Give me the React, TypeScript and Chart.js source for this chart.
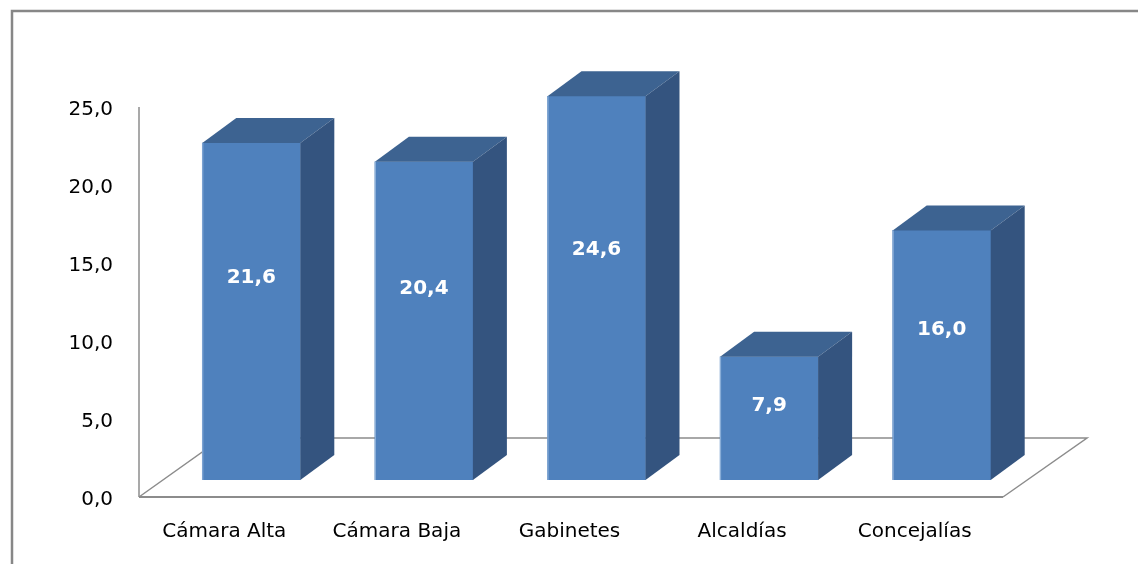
import React, { useEffect, useRef } from "react";
import { Chart, registerables } from "chart.js";

Chart.register(...registerables);

const categories = ["Cámara Alta", "Cámara Baja", "Gabinetes", "Alcaldías", "Concejalías"];
const values = [21.6, 20.4, 24.6, 7.9, 16.0];
const yMin = 0;
const yMax = 25;
const yStep = 5;

const FRONT = "#4F81BD";
const SIDE = "#34547F";
const TOP = "#3D6391";
const LINE = "#8C8C8C";
const FONT = "'DejaVu Sans', sans-serif";

const fmt = (v: number) => Number(v).toFixed(1).replace(".", ",");

const scenePlugin = {
  id: "scene3d",
  beforeDraw(chart: any) {
    const ctx = chart.ctx;
    ctx.save();
    ctx.fillStyle = "#ffffff";
    ctx.fillRect(0, 0, chart.width, chart.height);
    ctx.strokeStyle = "#878787";
    ctx.lineWidth = 2.5;
    ctx.beginPath();
    ctx.moveTo(12, chart.height);
    ctx.lineTo(12, 11);
    ctx.lineTo(chart.width, 11);
    ctx.stroke();
    ctx.restore();
  },
  beforeDatasetsDraw(chart: any) {
    const ctx = chart.ctx;
    const { left, right } = chart.chartArea;
    const ys = chart.scales.y;
    const y0 = ys.getPixelForValue(yMin);
    const yT = ys.getPixelForValue(yMax);
    const fx = -26, fy = 17, bx = 57, by = -42;
    ctx.save();
    ctx.strokeStyle = LINE;
    ctx.lineWidth = 1.5;
    ctx.beginPath();
    ctx.moveTo(left + fx, yT + fy);
    ctx.lineTo(left + fx, y0 + fy);
    ctx.stroke();
    ctx.beginPath();
    ctx.moveTo(left + fx, y0 + fy);
    ctx.lineTo(left + bx, y0 + by);
    ctx.lineTo(right + bx + 2, y0 + by);
    ctx.lineTo(right + fx + 1, y0 + fy);
    ctx.stroke();
    ctx.lineWidth = 2;
    ctx.beginPath();
    ctx.moveTo(left + fx, y0 + fy);
    ctx.lineTo(right + fx + 1, y0 + fy);
    ctx.stroke();
    ctx.restore();
  },
  afterDatasetsDraw(chart: any) {
    const ctx = chart.ctx;
    const meta = chart.getDatasetMeta(0);
    const dx = 34, dy = -25;
    ctx.save();
    meta.data.forEach((bar: any, i: number) => {
      const { x, y, base, width } = bar.getProps(["x", "y", "base", "width"], true);
      const l = x - width / 2;
      const r = x + width / 2;
      ctx.fillStyle = TOP;
      ctx.beginPath();
      ctx.moveTo(l, y);
      ctx.lineTo(l + dx, y + dy);
      ctx.lineTo(r + dx, y + dy);
      ctx.lineTo(r, y);
      ctx.closePath();
      ctx.fill();
      ctx.fillStyle = SIDE;
      ctx.beginPath();
      ctx.moveTo(r, y);
      ctx.lineTo(r + dx, y + dy);
      ctx.lineTo(r + dx, base + dy);
      ctx.lineTo(r, base);
      ctx.closePath();
      ctx.fill();
      ctx.fillStyle = "rgba(160,190,225,0.8)";
      ctx.fillRect(l, y, 1, base - y);
      ctx.fillStyle = "#ffffff";
      ctx.font = `bold 20px ${FONT}`;
      ctx.textAlign = "center";
      ctx.textBaseline = "middle";
      ctx.fillText(fmt(values[i]), x, base - 0.6 * (base - y));
    });
    ctx.restore();
  },
};

export default function App() {
  const ref = useRef<HTMLCanvasElement | null>(null);
  useEffect(() => {
    document.body.style.margin = "0";
    const canvas = ref.current!;
    const chart = new Chart(canvas, {
      type: "bar",
      data: {
        labels: categories,
        datasets: [
          {
            data: values,
            backgroundColor: FRONT,
            borderWidth: 0,
            barThickness: 98,
          },
        ],
      },
      options: {
        animation: false,
        responsive: false,
        devicePixelRatio: 1,
        layout: { padding: { top: 90, left: 0, right: 110, bottom: 0 } },
        plugins: { legend: { display: false }, tooltip: { enabled: false } },
        scales: {
          x: {
            type: "category",
            grid: { display: false },
            border: { display: false },
            ticks: {
              color: "#000",
              font: { family: FONT, size: 20 },
              labelOffset: -27,
              padding: 32,
              maxRotation: 0,
            },
            afterFit(scale: any) {
              scale.height = 84;
            },
          },
          y: {
            min: yMin,
            max: yMax,
            grid: { display: false },
            border: { display: false },
            ticks: {
              stepSize: yStep,
              color: "#000",
              font: { family: FONT, size: 20 },
              labelOffset: 20,
              padding: 44,
              callback: (v: any) => fmt(Number(v)),
            },
            afterFit(scale: any) {
              scale.width = 165;
            },
          },
        },
      },
      plugins: [scenePlugin],
    });
    return () => chart.destroy();
  }, []);
  return (
    <div style={{ width: 1138, height: 564 }}>
      <canvas ref={ref} width={1138} height={564} style={{ display: "block" }} />
    </div>
  );
}
